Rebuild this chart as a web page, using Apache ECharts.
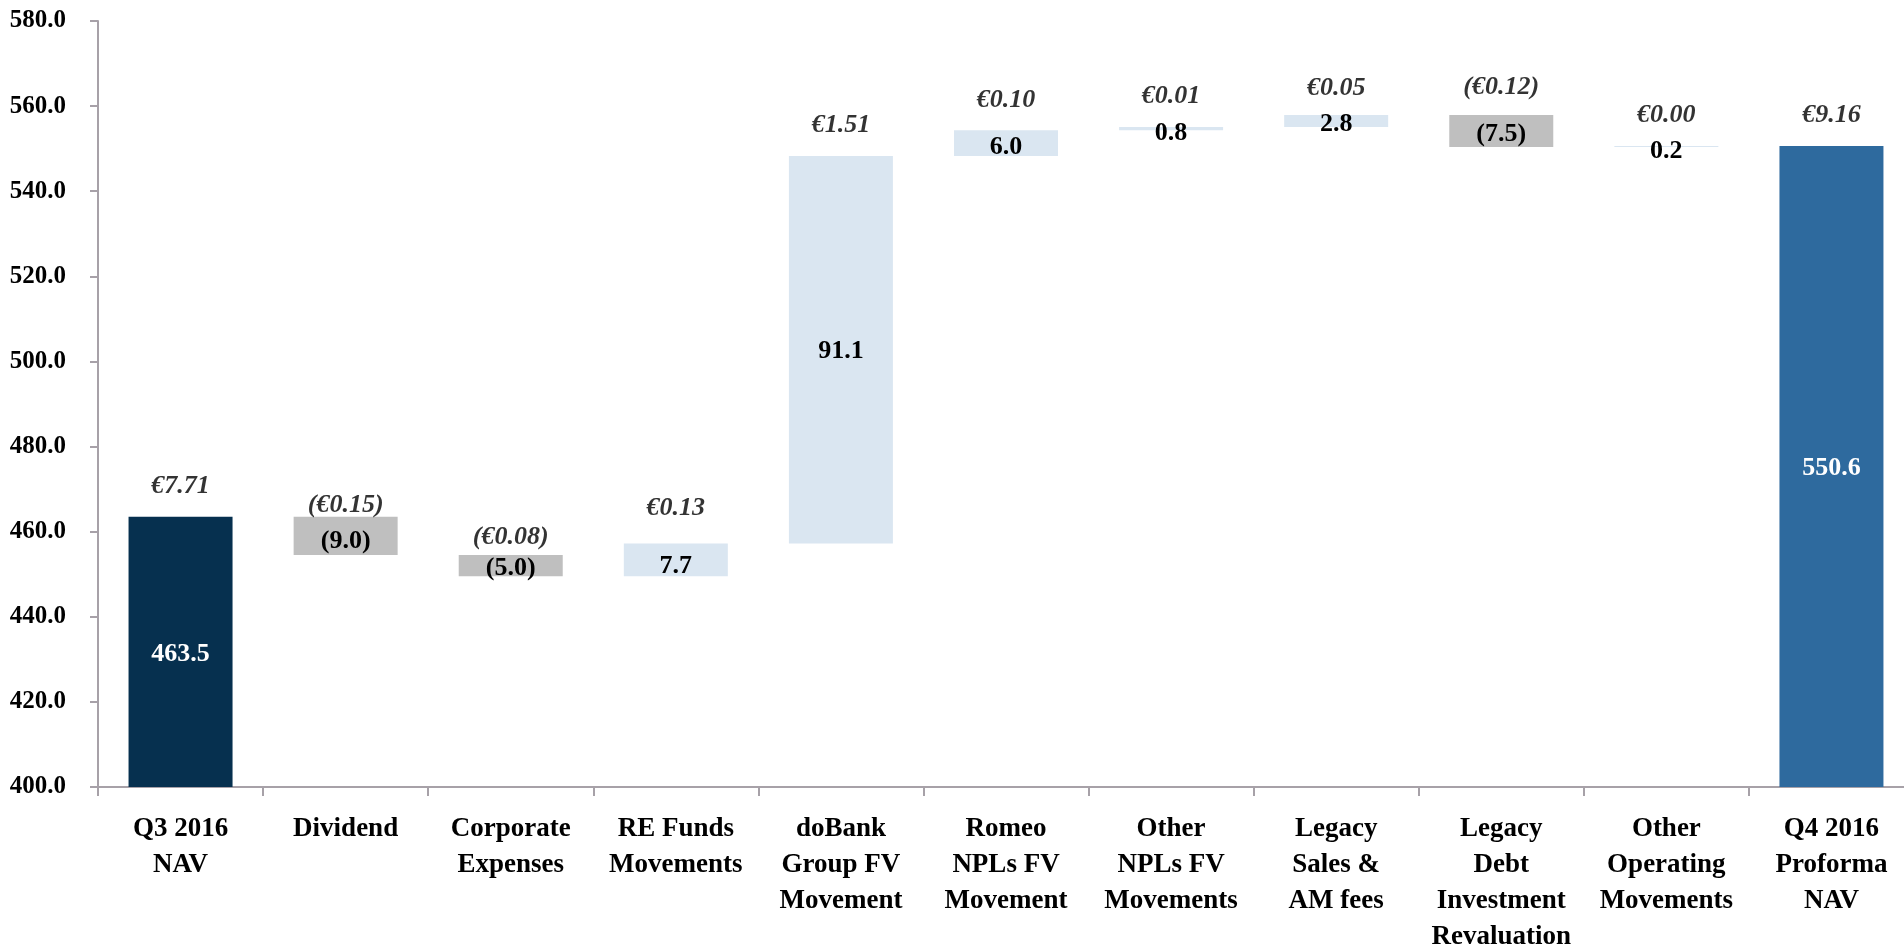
<!DOCTYPE html>
<html><head><meta charset="utf-8">
<script src="https://cdn.jsdelivr.net/npm/echarts@6/dist/echarts.min.js"></script>
<style>html,body{margin:0;padding:0;background:#fff}#c{width:1904px;height:946px}</style>
</head><body><div id="c"></div>
<script>
const categories = ['Q3 2016\nNAV','Dividend','Corporate\nExpenses','RE Funds\nMovements','doBank\nGroup FV\nMovement','Romeo\nNPLs FV\nMovement','Other\nNPLs FV\nMovements','Legacy\nSales &\nAM fees','Legacy\nDebt\nInvestment\nRevaluation','Other\nOperating\nMovements','Q4 2016\nProforma\nNAV'];
const startNav = 463.5;
const movements = [-9.0, -5.0, 7.7, 91.1, 6.0, 0.8, 2.8, -7.5, 0.2];
const endNav = 550.6;
const perShare = ['€7.71','(€0.15)','(€0.08)','€0.13','€1.51','€0.10','€0.01','€0.05','(€0.12)','€0.00','€9.16'];
const yMin = 400, yMax = 580, yInterval = 20;

// styling (not data)
const FONT = 'Liberation Serif';
const colNavy = '#06304f', colBlue = '#2e6a9e', colPos = '#dae6f1', colNeg = '#bfbfbf';
const valueLabelOffsets = [2,5,3,6,2,4,5,3,3,5,2];
const epsLabelOffsets = [0,19,13,-5,0,0,0,4,3,0,0];

const r1 = v => Math.round(v*100)/100;
const base = [], height = [], tops = [], valLabels = [], colors = [];
base.push(yMin); height.push(r1(startNav - yMin)); tops.push(startNav);
valLabels.push(startNav.toFixed(1)); colors.push(colNavy);
let level = startNav;
movements.forEach(m => {
  const next = r1(level + m);
  base.push(Math.min(level, next)); height.push(Math.abs(m)); tops.push(Math.max(level, next));
  valLabels.push(m < 0 ? '(' + Math.abs(m).toFixed(1) + ')' : m.toFixed(1));
  colors.push(m < 0 ? colNeg : colPos);
  level = next;
});
base.push(yMin); height.push(r1(endNav - yMin)); tops.push(endNav);
valLabels.push(endNav.toFixed(1)); colors.push(colBlue);

const axisCol = '#a7a1a8';
const chart = echarts.init(document.getElementById('c'), null, {renderer:'canvas'});
chart.setOption({
  animation: false,
  grid: {left: 98, top: 21, height: 766, width: 1816, containLabel: false, outerBoundsMode: 'none'},
  xAxis: {
    type: 'category', data: categories,
    axisLine: {lineStyle: {color: axisCol, width: 2}},
    axisTick: {show: true, length: 9, lineStyle: {color: axisCol, width: 2}},
    axisLabel: {interval: 0, margin: 24, fontFamily: FONT, fontWeight: 'bold', fontSize: 27, lineHeight: 36, color: '#000'}
  },
  yAxis: {
    type: 'value', min: yMin, max: yMax, interval: yInterval,
    splitLine: {show: false},
    axisLine: {show: true, lineStyle: {color: axisCol, width: 2}},
    axisTick: {show: true, length: 8, lineStyle: {color: axisCol, width: 2}},
    axisLabel: {margin: 32, fontFamily: FONT, fontWeight: 'bold', fontSize: 25, color: '#000', formatter: v => v.toFixed(1)}
  },
  series: [
    {type: 'bar', stack: 'w', data: base, barWidth: 104, itemStyle: {color: 'transparent'}, silent: true},
    {type: 'bar', stack: 'w', barWidth: 104,
     data: height.map((h, i) => ({value: h, itemStyle: {color: colors[i]},
       label: {offset: [0, valueLabelOffsets[i]], color: (i === 0 || i === height.length - 1) ? '#fff' : '#000'}})),
     label: {show: true, position: 'inside', fontFamily: FONT, fontWeight: 'bold', fontSize: 26,
       formatter: p => valLabels[p.dataIndex]}
    },
    {type: 'scatter', symbolSize: 1, itemStyle: {color: 'transparent'}, z: 5,
     data: tops.map((t, i) => ({value: t, label: {offset: [0, epsLabelOffsets[i]]}})),
     label: {show: true, position: 'top', distance: 17, fontFamily: FONT, fontWeight: 'bold', fontStyle: 'italic', fontSize: 26, color: '#000',
       formatter: p => perShare[p.dataIndex]}
    }
  ]
});
</script></body></html>
